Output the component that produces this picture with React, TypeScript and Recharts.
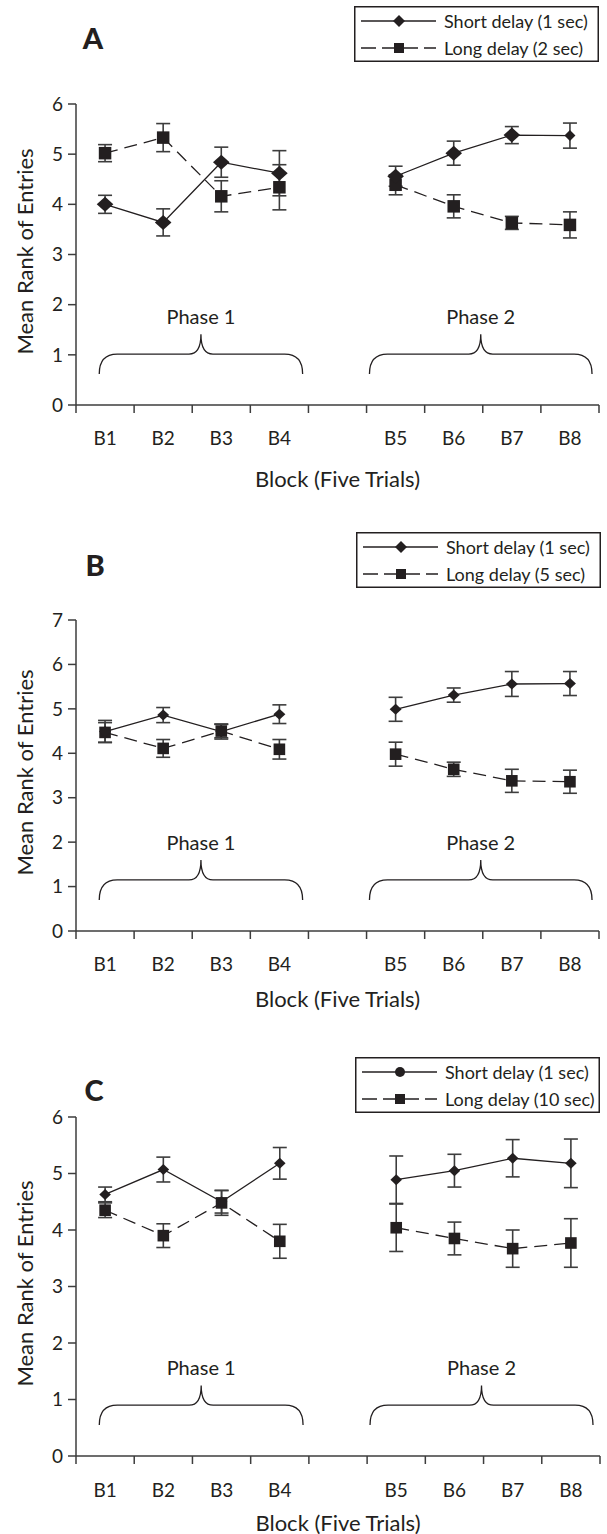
import React from 'react';
import { LineChart, Line, XAxis, YAxis, ErrorBar, Legend, ReferenceArea } from 'recharts';

const INK = '#231f20';
const GREY = '#3d3d3d';
const FONT = 'Lato, "Open Sans", sans-serif';

const blocks = ['B1', 'B2', 'B3', 'B4', 'B5', 'B6', 'B7', 'B8'];
// four blocks, an empty slot, four more blocks
const slots = [0.5, 1.5, 2.5, 3.5, 5.5, 6.5, 7.5, 8.5];
const gapSlot = 4.5;
const slotEdges = [0, 1, 2, 3, 4, 5, 6, 7, 8, 9];
const phases = ['Phase 1', 'Phase 2'];

// Panel A: 1 sec vs 2 sec
const aShort = [4.0, 3.64, 4.84, 4.62, 4.56, 5.02, 5.38, 5.37];
const aShortErr = [0.18, 0.27, 0.3, 0.45, 0.2, 0.24, 0.17, 0.25];
const aLong = [5.02, 5.33, 4.16, 4.34, 4.39, 3.96, 3.63, 3.59];
const aLongErr = [0.17, 0.28, 0.31, 0.45, 0.2, 0.23, 0.13, 0.26];

// Panel B: 1 sec vs 5 sec
const bShort = [4.49, 4.86, 4.49, 4.88, 4.99, 5.31, 5.56, 5.57];
const bShortErr = [0.25, 0.17, 0.17, 0.21, 0.27, 0.16, 0.28, 0.27];
const bLong = [4.47, 4.11, 4.5, 4.09, 3.98, 3.64, 3.38, 3.36];
const bLongErr = [0.22, 0.2, 0.15, 0.22, 0.27, 0.16, 0.26, 0.26];

// Panel C: 1 sec vs 10 sec
const cShort = [4.63, 5.07, 4.5, 5.18, 4.89, 5.05, 5.27, 5.18];
const cShortErr = [0.13, 0.22, 0.2, 0.28, 0.42, 0.29, 0.33, 0.43];
const cLong = [4.35, 3.9, 4.48, 3.8, 4.04, 3.85, 3.67, 3.77];
const cLongErr = [0.13, 0.21, 0.22, 0.3, 0.42, 0.29, 0.33, 0.43];

function buildRows(short: number[], shortErr: number[], long: number[], longErr: number[]) {
  const rows: any[] = blocks.map((b, i) => ({
    x: slots[i], block: b,
    short: short[i], shortErr: shortErr[i],
    long: long[i], longErr: longErr[i],
  }));
  rows.splice(4, 0, { x: gapSlot, block: '', short: null, shortErr: null, long: null, longErr: null });
  return rows;
}

const Diamond = ({ cx, cy, rx, ry }: any) => (
  <path d={`M${cx},${cy - ry} L${cx + rx},${cy} L${cx},${cy + ry} L${cx - rx},${cy} Z`} fill={INK} />
);
const Square = ({ cx, cy, r }: any) => <rect x={cx - r} y={cy - r} width={2 * r} height={2 * r} fill={INK} />;

const XTick = (props: any) => {
  const { x, payload, axisY, labelDy } = props;
  const idx = slots.indexOf(payload.value);
  if (idx >= 0) {
    return (
      <text x={x} y={axisY + labelDy} textAnchor="middle" dominantBaseline="central"
        fontFamily={FONT} fontSize={19} fill={INK}>{blocks[idx]}</text>
    );
  }
  return <line x1={x} x2={x} y1={axisY} y2={axisY + 8} stroke={GREY} strokeWidth={1.5} />;
};

const brace = (label: string) => (p: any) => {
  const { x, y, width, height } = p;
  const x0 = x, x1 = x + width, xm = x + width / 2;
  const yb = y + height, yf = y + height / 2, yt = y;
  const d = `M${x0},${yb} Q${x0},${yf} ${x0 + 18},${yf} L${xm - 12},${yf} Q${xm},${yf} ${xm},${yt} ` +
    `Q${xm},${yf} ${xm + 12},${yf} L${x1 - 18},${yf} Q${x1},${yf} ${x1},${yb}`;
  return (
    <g>
      <path d={d} fill="none" stroke={INK} strokeWidth={1.3} />
      <text x={xm} y={yt - 18} textAnchor="middle" dominantBaseline="central"
        fontFamily={FONT} fontSize={20} fill={INK}>{label}</text>
    </g>
  );
};

const LegendBox = ({ labels, circle }: any) => (
  <svg width={245} height={56} style={{ display: 'block' }}>
    <rect x={0.75} y={0.75} width={243.5} height={54.5} fill="#fff" stroke={INK} strokeWidth={1.5} />
    <line x1={7} x2={82} y1={15} y2={15} stroke={INK} strokeWidth={1.3} />
    {circle ? <circle cx={45} cy={15} r={5} fill={INK} /> : <Diamond cx={45} cy={15} rx={6} ry={6} />}
    <text x={90} y={15} dominantBaseline="central" fontFamily={FONT} fontSize={18} fill={INK}>{labels[0]}</text>
    <line x1={7} x2={82} y1={42} y2={42} stroke={INK} strokeWidth={1.3} strokeDasharray="15 6" />
    <Square cx={45} cy={42} r={5} />
    <text x={90} y={42} dominantBaseline="central" fontFamily={FONT} fontSize={18} fill={INK}>{labels[1]}</text>
  </svg>
);

const panels = [
  {
    rows: buildRows(aShort, aShortErr, aLong, aLongErr), yMax: 6,
    top: 0, height: 500, plotTop: 104, plotBottom: 405, right: 8,
    letter: 'A', letterX: 93, letterY: 38, legendX: 354, legendY: 6,
    labels: ['Short delay (1 sec)', 'Long delay (2 sec)'], circle: false,
    dRx: 8.3, dRy: 7.5, sq: 6.25, smallLast: true,
    braceY: [0.62, 1.41], labelDy: 32, titleDy: 73,
  },
  {
    rows: buildRows(bShort, bShortErr, bLong, bLongErr), yMax: 7,
    top: 500, height: 520, plotTop: 620, plotBottom: 931, right: 8,
    letter: 'B', letterX: 95, letterY: 65, legendX: 356, legendY: 32,
    labels: ['Short delay (1 sec)', 'Long delay (5 sec)'], circle: false,
    dRx: 6, dRy: 5.5, sq: 5.8, smallLast: false,
    braceY: [0.7, 1.6], labelDy: 32, titleDy: 67,
  },
  {
    rows: buildRows(cShort, cShortErr, cLong, cLongErr), yMax: 6,
    top: 1020, height: 514, plotTop: 1117, plotBottom: 1456, right: 7,
    letter: 'C', letterX: 94, letterY: 70, legendX: 355, legendY: 37,
    labels: ['Short delay (1 sec)', 'Long delay (10 sec)'], circle: true,
    dRx: 5.8, dRy: 5.5, sq: 5.8, smallLast: false,
    braceY: [0.55, 1.25], labelDy: 33, titleDy: 66,
  },
];

function Panel({ cfg }: any) {
  const axisY = cfg.plotBottom - cfg.top;
  const plotH = cfg.plotBottom - cfg.plotTop;
  const xAxisH = 75;
  const margin = { top: cfg.plotTop - cfg.top, right: cfg.right, left: 0, bottom: cfg.height - axisY - xAxisH };
  const yTicks = Array.from({ length: cfg.yMax + 1 }, (_, i) => i);
  const xTicks = [...slotEdges, ...slots];

  const diamondDot = (p: any) => {
    if (p.cy == null || p.value == null) return <g key={p.index} />;
    const small = cfg.smallLast && p.index === cfg.rows.length - 1;
    return <Diamond key={p.index} cx={p.cx} cy={p.cy} rx={small ? 5.5 : cfg.dRx} ry={small ? 5.5 : cfg.dRy} />;
  };
  const squareDot = (p: any) => {
    if (p.cy == null || p.value == null) return <g key={p.index} />;
    return <Square key={p.index} cx={p.cx} cy={p.cy} r={cfg.sq} />;
  };

  return (
    <div style={{ position: 'absolute', left: 0, top: cfg.top, width: 607, height: cfg.height }}>
      <div style={{
        position: 'absolute', left: cfg.letterX - 20, top: cfg.letterY - 15, width: 40, height: 30,
        lineHeight: '30px', textAlign: 'center', fontFamily: FONT, fontWeight: 900, fontSize: 29, color: INK,
      }}>{cfg.letter}</div>
      <LineChart width={607} height={cfg.height} data={cfg.rows} margin={margin}>
        <XAxis dataKey="x" type="number" domain={[0, 9]} ticks={xTicks} interval={0}
          height={xAxisH} tickLine={false} axisLine={{ stroke: GREY, strokeWidth: 1.5 }}
          tick={<XTick axisY={axisY} labelDy={cfg.labelDy} />}
          label={{
            content: () => (
              <text x={(76 + 607 - cfg.right) / 2} y={axisY + cfg.titleDy} textAnchor="middle"
                dominantBaseline="central" fontFamily={FONT} fontSize={22} fill={INK}>Block (Five Trials)</text>
            ),
          }} />
        <YAxis type="number" domain={[0, cfg.yMax]} ticks={yTicks} interval={0} width={76}
          tickSize={8} tickMargin={5} allowDataOverflow
          tick={{ fontSize: 19, fill: INK, fontFamily: FONT }}
          tickLine={{ stroke: GREY, strokeWidth: 1.5 }} axisLine={{ stroke: GREY, strokeWidth: 1.5 }}
          label={{
            content: () => (
              <text x={24} y={margin.top + plotH / 2 - 3} textAnchor="middle" dominantBaseline="central"
                transform={`rotate(-90 24 ${margin.top + plotH / 2 - 3})`}
                fontFamily={FONT} fontSize={22} fill={INK}>Mean Rank of Entries</text>
            ),
          }} />
        <ReferenceArea x1={0.4} x2={3.9} y1={cfg.braceY[0]} y2={cfg.braceY[1]} shape={brace(phases[0])} ifOverflow="visible" />
        <ReferenceArea x1={5.05} x2={8.88} y1={cfg.braceY[0]} y2={cfg.braceY[1]} shape={brace(phases[1])} ifOverflow="visible" />
        <Line dataKey="long" stroke={INK} strokeWidth={1.3} strokeDasharray="13 7" dot={squareDot}
          activeDot={false} isAnimationActive={false}>
          <ErrorBar dataKey="longErr" direction="y" width={7} stroke={GREY} strokeWidth={1.6} />
        </Line>
        <Line dataKey="short" stroke={INK} strokeWidth={1.3} dot={diamondDot}
          activeDot={false} isAnimationActive={false}>
          <ErrorBar dataKey="shortErr" direction="y" width={7} stroke={GREY} strokeWidth={1.6} />
        </Line>
        <Legend layout="vertical" align="center" verticalAlign="middle"
          wrapperStyle={{ position: 'absolute', left: cfg.legendX, top: cfg.legendY, width: 245, height: 56 }}
          content={() => <LegendBox labels={cfg.labels} circle={cfg.circle} />} />
      </LineChart>
    </div>
  );
}

export default function App() {
  return (
    <div style={{ position: 'absolute', left: 0, top: 0, width: 607, height: 1534, background: '#fff' }}>
      {panels.map((cfg) => <Panel key={cfg.letter} cfg={cfg} />)}
    </div>
  );
}
